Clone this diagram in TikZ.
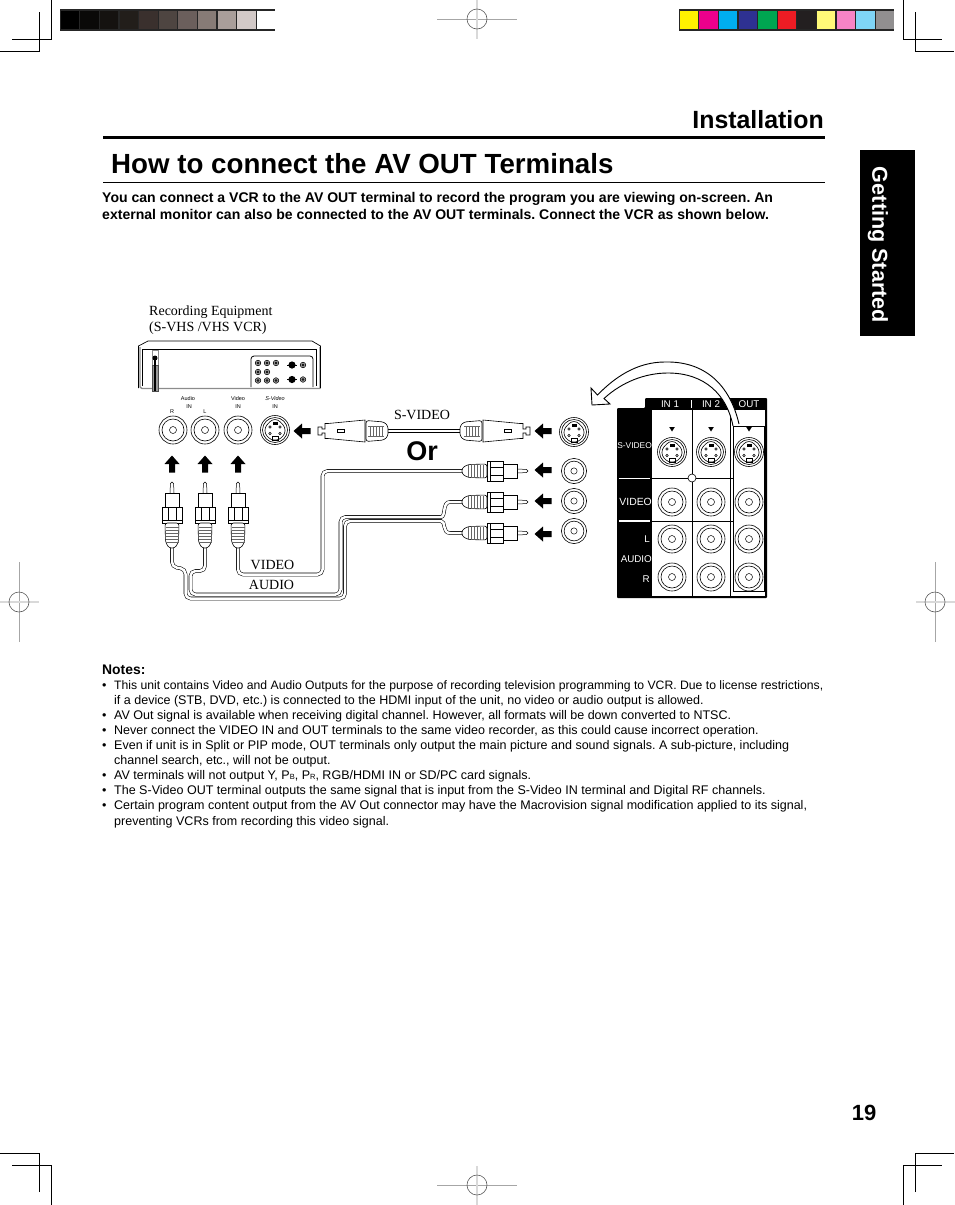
\documentclass[tikz,border=0pt]{standalone}
\usepackage{fontspec}
\setmainfont{Liberation Sans}
\newfontfamily\recfont{Liberation Serif}
\usetikzlibrary{positioning,calc}
\begin{document}
\frenchspacing
\begin{tikzpicture}[
  x=1pt, y=-1pt,
  body/.style={anchor=base west, inner sep=0pt, font=\fontsize{12.52}{14}\selectfont},
  lead/.style={anchor=base west, inner sep=0pt, font=\fontsize{14.05}{15}\selectfont\bfseries},
  tag/.style={inner sep=0pt, font=\fontsize{5.5}{6}\selectfont},
  rec/.style={anchor=base west, inner sep=0pt, font=\fontsize{14}{16}\selectfont\recfont},
  reccenter/.style={inner sep=0pt, font=\fontsize{14}{16}\selectfont\recfont},
  paneltext/.style={inner sep=0pt, text=white, font=\fontsize{9.8}{11}\selectfont},
  crop/.style={line width=0.8pt},
  cable/.style={line width=0.55pt, double=white, double distance=2.5pt, rounded corners=5pt},
  blockarrow/.pic={\fill (-8.5,-3) -- (0,-3) -- (0,-7.5) -- (8.5,0) -- (0,7.5) -- (0,3) -- (-8.5,3) -- cycle;},
  rcajack/.pic={
    \draw[line width=0.6pt] (0,0) circle (14) (0,0) circle (11);
    \draw[line width=0.5pt] (0,0) circle (3.5);},
  svideojack/.pic={
    \draw[line width=0.6pt] (0,0) circle (14.5) (0,0) circle (12.5);
    \draw[line width=0.6pt, rounded corners=3pt] (-3,-10.5) -- (3,-10.5) -- (10,-3) -- (10,4) -- (4,10) -- (-4,10) -- (-10,4) -- (-10,-3) -- cycle;
    \draw[line width=0.5pt] (-5,-3) circle (1.3) (5,-3) circle (1.3) (-5,3.5) circle (1.3) (5,3.5) circle (1.3);
    \fill (-2.5,-8) rectangle (2.5,-5.5);
    \draw[line width=0.6pt] (-3,6.5) rectangle (3,10);},
  rcaplug/.pic={
    \draw[line width=0.5pt, fill=white, rounded corners=1.5pt] (11,-2) -- (0,-1.5) -- (0,1.5) -- (11,2);
    \draw[line width=0.6pt, fill=white] (11,-7) rectangle (25,7);
    \draw[line width=0.6pt, fill=white] (25,-10) rectangle (38,10);
    \draw[line width=0.9pt, fill=white] (38,-10) rectangle (41,10);
    \draw[line width=0.5pt] (25,-4) -- (38,-4) (25,4) -- (38,4);
    \draw[line width=0.6pt, fill=white, rounded corners=2.5pt] (41,-7) -- (60,-6.5) -- (66,-3) -- (66,3) -- (60,6.5) -- (41,7) -- cycle;
    \foreach \t in {45,48,51,54,57,60} \draw[black!60, line width=0.4pt] (\t,-6.5) -- (\t,6.5);},
  svideoplug/.pic={
    \draw[line width=0.6pt, fill=white] (0,-4) -- (4,-4) -- (4,-2) -- (7,-2) -- (7,-7.5) -- (10,-7.5) -- (47,-11) -- (47,11) -- (10,7.5) -- (7,7.5) -- (7,2) -- (4,2) -- (4,4) -- (0,4) -- cycle;
    \draw[line width=0.5pt] (19,-1.5) rectangle (26,1.5);
    \draw[line width=0.6pt, fill=white, rounded corners=2.5pt] (48,-10.5) -- (66,-9) -- (70,-5) -- (70,5) -- (66,9) -- (48,10.5) -- cycle;
    \foreach \t in {52,55,58,61,64} \draw[black!60, line width=0.4pt] (\t,-5) -- (\t,5);
    \draw[black!60, line width=0.4pt] (50,-5) -- (66,-5) (50,5) -- (66,5);},
  register/.pic={
    \draw[black!35, line width=0.8pt] (-40,0) -- (40,0);
    \draw[black!15, line width=1.4pt] (0,-19) -- (0,20);
    \draw[black!65, line width=0.6pt] (0,0) circle (10);}
]
\useasboundingbox (0,0) rectangle (954,1205);

% crop marks
\draw[crop] (51,0) -- (51,39) -- (12,39) (39,12) -- (39,51) -- (0,51);
\draw[crop] (903,0) -- (903,39) -- (942,39) (915,12) -- (915,51) -- (954,51);
\draw[crop] (51,1205) -- (51,1165) -- (12,1165) (39,1192) -- (39,1153) -- (0,1153);
\draw[crop] (903,1205) -- (903,1165) -- (942,1165) (915,1192) -- (915,1153) -- (954,1153);
\pic at (477,19) {register};
\pic at (477,1185) {register};
\pic[rotate=90] at (19,602) {register};
\pic[rotate=90] at (935,602) {register};

% colour bars
\fill[black!85] (60,9) rectangle (275,30.5);
\foreach \i/\c in {0/000000,1/0A0908,2/151210,3/221E1A,4/3A302D,5/4E4541,6/6B5F5C,7/877B76,8/A99E9A,9/D2C9C7,10/FFFFFF}{
  \definecolor{swatch}{HTML}{\c}
  \fill[swatch] ({60.8+19.6*\i},10.5) rectangle ++(18.3,18.5);
}
\fill[black!85] (679,9) rectangle (894,30.5);
\foreach \i/\c in {0/FFF200,1/EC008C,2/00AEEF,3/2E3192,4/00A651,5/ED1C24,6/231F20,7/FFF978,8/F784C6,9/7FD5F7,10/918F90}{
  \definecolor{swatch}{HTML}{\c}
  \fill[swatch] ({679.8+19.6*\i},10.5) rectangle ++(18.3,18.5);
}

% heading
\node[anchor=base east, inner sep=0pt, font=\fontsize{24.9}{30}\selectfont\bfseries] (section) at (824,128.5) {Installation};
\draw[line width=2.6pt] (103,137.5) -- (825,137.5);
\node[anchor=base west, inner sep=0pt, font=\fontsize{27.7}{32}\selectfont\bfseries] (title) at (111,173) {How to connect the AV OUT Terminals};
\draw[line width=0.6pt] (103,182.5) -- (825,182.5);
\node[lead] (lead1) at (102,202) {You can connect a VCR to the AV OUT terminal to record the program you are viewing on-screen. An};
\node[lead] (lead2) at (102,219) {external monitor can also be connected to the AV OUT terminals. Connect the VCR as shown below.};

% side tab and page number
\fill (860,150) rectangle (915,336);
\node[rotate=-90, inner sep=0pt, text=white, font=\fontsize{21.6}{24}\selectfont\bfseries] (tab) at (878,245) {Getting Started};
\node[inner sep=0pt, font=\fontsize{22}{24}\selectfont\bfseries] (page) at (864,1113) {19};

% recording equipment
\node[rec] (rec1) at (149,315) {Recording Equipment};
\node[rec] (rec2) at (149,331) {(S-VHS /VHS VCR)};
\draw[black!45, line width=1.4pt, line join=round] (140,347) -- (140,387) -- (142,388.5) -- (320,388.5) -- (320,347);
\draw[line width=0.7pt] (138.5,388) -- (138.5,346) -- (148,341) -- (312,341) -- (320.5,346) -- (320.5,388);
\draw[line width=0.7pt] (142,386) -- (142,349) -- (316,349) -- (316,386);
\draw[line width=0.8pt, rounded corners=3pt] (251,387) -- (251,356) -- (313,356) -- (313,387);
\draw[black!45, line width=0.8pt, fill=white] (152,350) rectangle (158,365);
\fill (155,358) circle (2.5);
\draw[black!70, fill=black!40, line width=0.9pt] (152,365) rectangle (158,391);
\fill (154,360) rectangle (156,391);
\foreach \jx/\jy in {258/363,267/363,276/363,258/372,267/372,258/380.5,267/380.5,276/380.5,303/365,303/379.5}{
  \fill[black!40] (\jx,\jy) circle (2.8);
  \draw[line width=0.5pt] (\jx,\jy) circle (2.8) (\jx,\jy) circle (1);
}
\foreach \jy in {365,379.5}{
  \fill (292,\jy) circle (3.6);
  \draw[line width=0.8pt] (287,\jy) -- (297,\jy);
}

\node[tag] (audiotag) at (188,399) {Audio};
\node[tag] (audioin) at (189,407) {IN};
\node[tag] (rtag) at (172,412) {R};
\node[tag] (ltag) at (205,412) {L};
\node[tag] (videotag) at (238,399) {Video};
\node[tag] (videoin) at (238,407) {IN};
\node[tag, font=\fontsize{5.5}{6}\selectfont\itshape] (svideotag) at (275,399) {S-Video};
\node[tag] (svideoin) at (275,407) {IN};

\pic at (173,430) {rcajack};
\pic at (205,430) {rcajack};
\pic at (238,430) {rcajack};
\pic at (275,430) {svideojack};
\pic[rotate=180] at (302,431) {blockarrow};
\foreach \ax in {172,205,238}
  \pic[rotate=90] at (\ax,464) {blockarrow};

% cables
\coordinate (videoleft) at (238,540);
\coordinate (videoright) at (470,471);
\coordinate (rleft) at (172,540);
\coordinate (lleft) at (205,540);
\coordinate (rright) at (470,533);
\coordinate (lright) at (470,502);
\coordinate (svideoa) at (380,431);
\coordinate (svideob) at (468,431);
\draw[cable] (videoleft) -- (238,574.5) -- (322.5,574.5) -- (322.5,471) -- (videoright);
\draw[cable] (lleft) -- (205,571) -- (190.5,571) -- (190.5,594.5) -- (340.5,594.5) -- (340.5,517) -- (436,517) .. controls (446,517) and (442,502) .. (455,502) -- (lright);
\draw[cable] (rleft) -- (172,567) -- (185.5,569) -- (185.5,598.5) -- (345,598.5) -- (345,521) -- (436,521) .. controls (446,521) and (442,533) .. (455,533) -- (rright);
\draw[line width=0.55pt, double=white, double distance=2.5pt] (svideoa) -- (svideob);

% plugs
\foreach \ax in {172,205,238}
  \pic[rotate=-90] at (\ax,482) {rcaplug};
\foreach \py in {471,502,533}
  \pic[rotate=180] at (528,\py) {rcaplug};
\pic at (318,431) {svideoplug};
\pic[rotate=180] at (530,431) {svideoplug};

\node[reccenter] (svideolabel) at (422,415) {S-VIDEO};
\node[inner sep=0pt, font=\fontsize{27}{30}\selectfont\bfseries] (orlabel) at (422,451) {Or};
\node[reccenter] (videolabel) at (272.5,565) {VIDEO};
\node[reccenter] (audiolabel) at (271.5,585) {AUDIO};

% jacks on the set side
\foreach \ay in {431,470,501,534}
  \pic[rotate=180] at (543,\ay) {blockarrow};
\pic at (574,432) {svideojack};
\foreach \ay in {471,501,531}
  \pic[scale=0.9] at (574,\ay) {rcajack};

% terminal panel
\fill[rounded corners=1pt] (617,408) -- (645,408) -- (645,398) -- (767,398) -- (767,598) -- (617,598) -- cycle;
\fill[white] (652,410) rectangle (765,596);
\foreach \lx in {692,730}
  \draw[line width=0.8pt] (\lx,410) -- (\lx,596);
\draw[line width=0.6pt] (652,478) -- (733,478) (652,521) -- (733,521);
\draw[white, line width=1pt] (619,478) -- (650,478);
\draw[white, line width=1.6pt] (619,521) -- (650,521);
\draw[line width=0.6pt, fill=white] (692,478) circle (4);
\draw[line width=0.9pt] (733,426) rectangle (764,591);
\foreach \px in {672,711,749}{
  \fill (\px-2.8,427) -- (\px+2.8,427) -- (\px,431.5) -- cycle;
  \pic at (\px,452) {svideojack};
  \pic at (\px,502) {rcajack};
  \pic at (\px,539) {rcajack};
  \pic at (\px,577) {rcajack};
}
\node[paneltext] (in1) at (670,404.5) {IN 1};
\node[paneltext] (in2) at (711,404.5) {IN 2};
\node[paneltext] (outlabel) at (749,404.5) {OUT};
\draw[white, line width=0.7pt] (691,400) -- (691,408);
\node[paneltext, anchor=east, font=\fontsize{8.4}{11}\selectfont] (svideopanel) at (652,446) {S-VIDEO};
\node[paneltext, anchor=east, font=\fontsize{10.4}{11}\selectfont] (videopanel) at (652,502) {VIDEO};
\node[paneltext, anchor=east] (lpanel) at (650,539) {L};
\node[paneltext, anchor=east] (audiopanel) at (652,559) {AUDIO};
\node[paneltext, anchor=east] (rpanel) at (650,579) {R};

% curved arrow from the out terminals
\draw[line width=0.9pt, fill=white, line join=miter]
  (739,424) .. controls (730,385) and (705,361) .. (665,362)
  .. controls (637,362) and (615,377) .. (597.5,395)
  -- (591,388) -- (592,405) -- (610,404) -- (604,398.5)
  .. controls (622,382) and (645,373) .. (668,373)
  .. controls (705,373) and (727,395) .. (733,426);

% notes
\node[anchor=base west, inner sep=0pt, font=\fontsize{13.9}{15}\selectfont\bfseries] (notes) at (102,674) {Notes:};
\foreach \by in {689,719.5,734.5,749.5,779.5,794.5,809.5}
  \node[body] at (102,\by) {•};
\node[body, font=\fontsize{12.2}{14}\selectfont] (note1a) at (114,689) {This unit contains Video and Audio Outputs for the purpose of recording television programming to VCR. Due to license restrictions,};
\node[body] (note1b) at (114,704.5) {if a device (STB, DVD, etc.) is connected to the HDMI input of the unit, no video or audio output is allowed.};
\node[body] (note2) at (114,719.5) {AV Out signal is available when receiving digital channel. However, all formats will be down converted to NTSC.};
\node[body] (note3) at (114,734.5) {Never connect the VIDEO IN and OUT terminals to the same video recorder, as this could cause incorrect operation.};
\node[body] (note4a) at (114,749.5) {Even if unit is in Split or PIP mode, OUT terminals only output the main picture and sound signals. A sub-picture, including};
\node[body] (note4b) at (114,764.5) {channel search, etc., will not be output.};
\node[body] (note5) at (114,779.5) {AV terminals will not output Y, P{\fontsize{7.5}{8}\selectfont B}, P{\fontsize{7.5}{8}\selectfont R}, RGB/HDMI IN or SD/PC card signals.};
\node[body] (note6) at (114,794.5) {The S-Video OUT terminal outputs the same signal that is input from the S-Video IN terminal and Digital RF channels.};
\node[body] (note7a) at (114,809.5) {Certain program content output from the AV Out connector may have the Macrovision signal modification applied to its signal,};
\node[body] (note7b) at (114,825) {preventing VCRs from recording this video signal.};
\end{tikzpicture}
\end{document}
